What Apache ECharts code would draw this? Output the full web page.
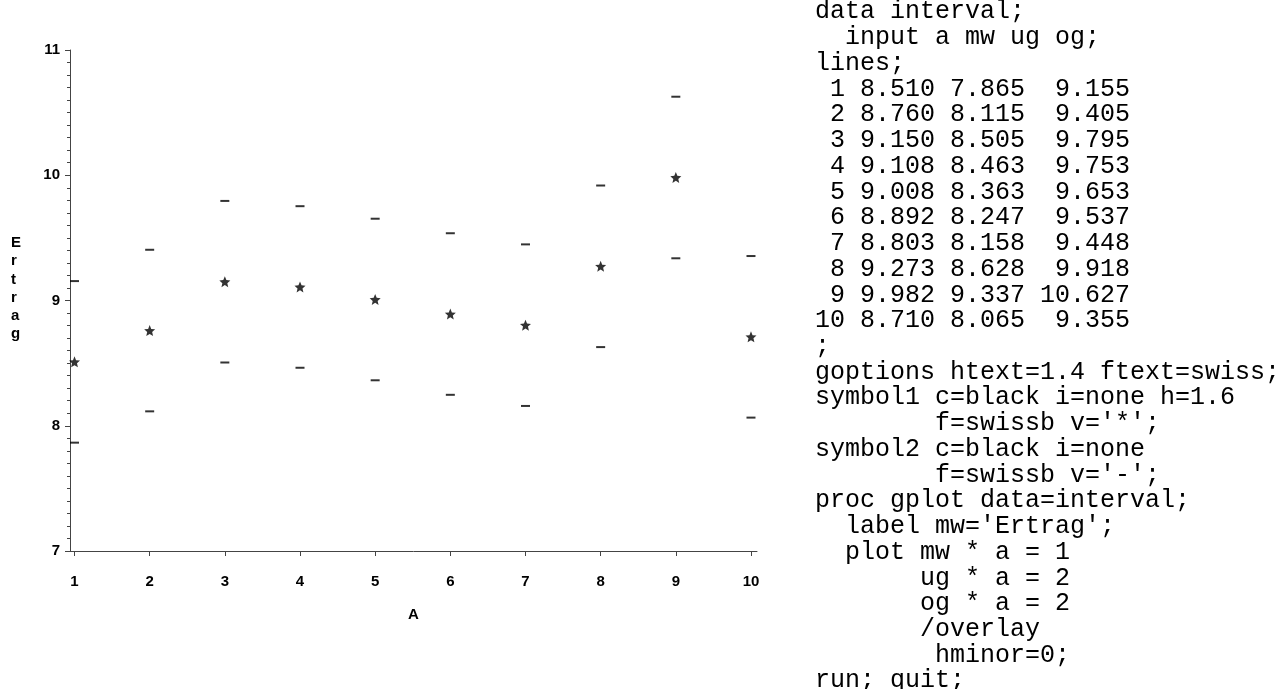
<!DOCTYPE html>
<html>
<head>
<meta charset="utf-8">
<title>Ertrag</title>
<script src="https://cdn.jsdelivr.net/npm/echarts@6/dist/echarts.min.js"></script>
<style>
  html, body { margin: 0; padding: 0; background: #fff; }
  #chart { width: 1284px; height: 689px; }
</style>
</head>
<body>
<div id="chart"></div>
<script>
// data interval: a mw ug og
const a = [1, 2, 3, 4, 5, 6, 7, 8, 9, 10]
const mw = [8.510, 8.760, 9.150, 9.108, 9.008, 8.892, 8.803, 9.273, 9.982, 8.710]
const ug = [7.865, 8.115, 8.505, 8.463, 8.363, 8.247, 8.158, 8.628, 9.337, 8.065]
const og = [9.155, 9.405, 9.795, 9.753, 9.653, 9.537, 9.448, 9.918, 10.627, 9.355]
const xTicks = [1, 2, 3, 4, 5, 6, 7, 8, 9, 10]

// stern fuer symbol1 (v='*')
const starPath = 'path://M0,-10 L2.65,-3.64 L9.51,-3.09 L4.28,1.39 L5.88,8.09 L0,4.5 L-5.88,8.09 L-4.28,1.39 L-9.51,-3.09 L-2.65,-3.64 Z'

function pad (s, n) {
  s = String(s)
  while (s.length < n) s = ' ' + s
  return s
}

// SAS-Programm rechts neben der Grafik
let code = ['data interval;', '  input a mw ug og;', 'lines;']
a.forEach((v, i) => {
  code.push(pad(v, 2) + ' ' + mw[i].toFixed(3) + ' ' + ug[i].toFixed(3) + ' ' + pad(og[i].toFixed(3), 6))
})
code = code.concat([
  ';',
  'goptions htext=1.4 ftext=swiss;',
  'symbol1 c=black i=none h=1.6',
  "        f=swissb v='*';",
  'symbol2 c=black i=none',
  "        f=swissb v='-';",
  'proc gplot data=interval;',
  "  label mw='Ertrag';",
  '  plot mw * a = 1',
  '       ug * a = 2',
  '       og * a = 2',
  '       /overlay',
  '        hminor=0;',
  'run; quit;'
])

const axisColor = '#444'
const labelFont = { fontFamily: 'Liberation Sans', fontSize: 15, fontWeight: 'bold', color: '#000' }

const chart = echarts.init(document.getElementById('chart'))
const option = {
  animation: false,
  backgroundColor: '#fff',
  grid: { left: 70, right: 527, top: 50, bottom: 138 },
  xAxis: {
    type: 'value',
    min: 0.94,
    max: 10.08,
    name: 'A',
    nameLocation: 'middle',
    nameGap: 56,
    nameTextStyle: labelFont,
    axisLine: { onZero: false, lineStyle: { color: axisColor, width: 1 } },
    axisTick: { show: true, inside: false, length: 5, customValues: xTicks, lineStyle: { color: axisColor } },
    axisLabel: Object.assign({ margin: 23, customValues: xTicks }, labelFont),
    splitLine: { show: false }
  },
  yAxis: {
    type: 'value',
    min: 7,
    max: 11,
    interval: 1,
    axisLine: { show: true, onZero: false, lineStyle: { color: axisColor, width: 1 } },
    axisTick: { show: true, inside: false, length: 5, lineStyle: { color: axisColor } },
    minorTick: { show: true, splitNumber: 10, length: 3, lineStyle: { color: axisColor } },
    axisLabel: Object.assign({ margin: 10 }, labelFont),
    splitLine: { show: false }
  },
  series: [
    {
      name: 'mw',
      type: 'scatter',
      symbol: starPath,
      symbolSize: 11,
      itemStyle: { color: '#000' },
      data: a.map((v, i) => [v, mw[i]])
    },
    {
      name: 'ug',
      type: 'scatter',
      symbol: 'rect',
      symbolSize: [9, 2],
      itemStyle: { color: '#000' },
      data: a.map((v, i) => [v, ug[i]])
    },
    {
      name: 'og',
      type: 'scatter',
      symbol: 'rect',
      symbolSize: [9, 2],
      itemStyle: { color: '#000' },
      data: a.map((v, i) => [v, og[i]])
    }
  ],
  graphic: [
    {
      // label mw='Ertrag', senkrecht gestapelt wie bei SAS
      type: 'text',
      left: 11,
      top: 234,
      style: {
        text: 'E\nr\nt\nr\na\ng',
        font: 'bold 15px "Liberation Sans"',
        lineHeight: 18.2,
        align: 'center',
        width: 12,
        fill: '#000'
      }
    },
    {
      type: 'text',
      left: 815,
      top: -1,
      style: {
        text: code.join('\n'),
        font: '25px "Liberation Mono"',
        lineHeight: 25.73,
        fill: '#000'
      }
    }
  ]
}
chart.setOption(option)
window.addEventListener('resize', () => chart.resize())
</script>
</body>
</html>
